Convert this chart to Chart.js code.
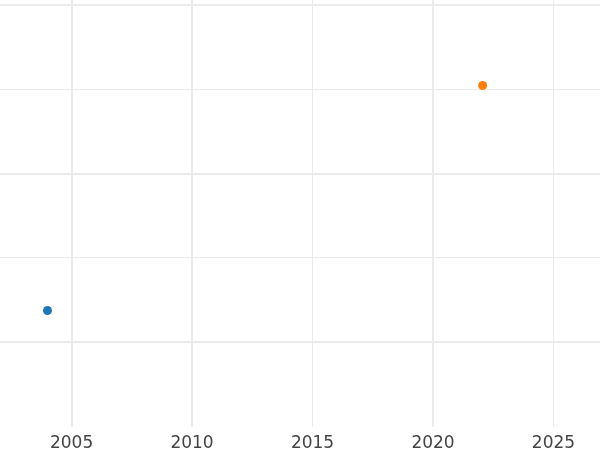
<!DOCTYPE html>
<html><head><meta charset="utf-8">
<script src="https://cdn.jsdelivr.net/npm/chart.js@4"></script>
<style>html,body{margin:0;padding:0;background:#fff}#wrap{width:600px;height:450px}</style>
</head><body><div id="wrap"><canvas id="c"></canvas></div>
<script>
const seriesNames = ["A", "B"];
const seriesX = [2004.0, 2022.06];
const seriesY = [1.376, 4.045];
const seriesColors = ["#1f77b4", "#ff7f0e"];
const xTicks = [2005, 2010, 2015, 2020, 2025];
const yTicks = [1, 2, 3, 4, 5];

const datasets = seriesNames.map((n, i) => ({
  label: n,
  data: [{x: seriesX[i], y: seriesY[i]}],
  backgroundColor: seriesColors[i],
  borderColor: seriesColors[i],
  pointRadius: 4.5,
  pointBorderWidth: 0
}));

new Chart(document.getElementById('c'), {
  type: 'scatter',
  data: {datasets},
  options: {
    responsive: true, maintainAspectRatio: false, animation: false,
    layout: {padding: 0, autoPadding: false},
    plugins: {legend: {display: false}, tooltip: {enabled: false}},
    scales: {
      x: {
        type: 'linear', min: 2002.03, max: 2026.93,
        afterBuildTicks: s => { s.ticks = xTicks.map(v => ({value: v})); },
        afterFit: s => { s.height = 23.5; },
        border: {display: false},
        grid: {color: '#ebebeb', drawTicks: false,
          lineWidth: c => (c.tick && (c.tick.value === 2015 || c.tick.value === 2025)) ? 1 : 2},
        ticks: {padding: 6.5, color: '#444', font: {family: 'DejaVu Sans', size: 17},
          callback: v => String(v), maxRotation: 0, autoSkip: false}
      },
      y: {
        type: 'linear', min: 0, max: 5.06,
        afterBuildTicks: s => { s.ticks = yTicks.map(v => ({value: v})); },
        border: {display: false},
        grid: {color: '#ebebeb', drawTicks: false,
          lineWidth: c => (c.tick && c.tick.value % 2 === 1) ? 2 : 1},
        ticks: {display: false}
      }
    }
  }
});
</script></body></html>
